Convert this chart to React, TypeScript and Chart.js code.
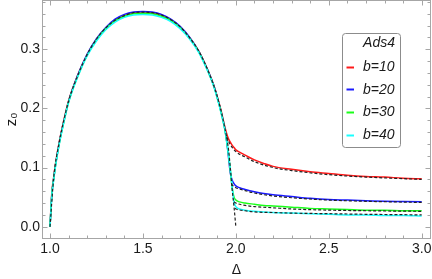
import React, { useEffect, useRef } from "react";
import { Chart, registerables } from "chart.js";

Chart.register(...registerables);

// ---------- data ----------
const DELTA = [
  1.0, 1.01, 1.02, 1.03, 1.05, 1.07, 1.1, 1.15, 1.2, 1.25, 1.3, 1.35, 1.4, 1.45, 1.5,
  1.55, 1.6, 1.65, 1.7, 1.75, 1.8, 1.85, 1.88, 1.9, 1.92, 1.94, 1.95, 1.96, 1.97, 1.98,
  1.99, 2.0, 2.02, 2.05, 2.1, 2.15, 2.2, 2.3, 2.4, 2.5, 2.6, 2.7, 2.8, 2.9, 3.0,
];

const Z_B10 = [
  0, 0.058, 0.084, 0.107, 0.144, 0.174, 0.213, 0.257, 0.291, 0.317, 0.336, 0.349, 0.357, 0.362, 0.363,
  0.362, 0.358, 0.35, 0.338, 0.32, 0.297, 0.264, 0.24, 0.22, 0.197, 0.17, 0.158, 0.149, 0.143, 0.138,
  0.134, 0.13, 0.126, 0.121, 0.113, 0.107, 0.102, 0.097, 0.093, 0.09, 0.087, 0.085, 0.084, 0.082, 0.081,
];

const Z_B20 = [
  0, 0.055, 0.082, 0.105, 0.142, 0.172, 0.212, 0.257, 0.292, 0.318, 0.337, 0.351, 0.359, 0.363, 0.364,
  0.363, 0.359, 0.351, 0.339, 0.321, 0.297, 0.264, 0.24, 0.219, 0.195, 0.167, 0.146, 0.119, 0.091, 0.079,
  0.073, 0.069, 0.066, 0.063, 0.059, 0.056, 0.054, 0.051, 0.048, 0.046, 0.045, 0.044, 0.043, 0.0425, 0.042,
];

const Z_B30 = [
  0, 0.055, 0.081, 0.104, 0.141, 0.171, 0.211, 0.255, 0.29, 0.316, 0.335, 0.348, 0.356, 0.36, 0.361,
  0.36, 0.356, 0.349, 0.337, 0.319, 0.296, 0.263, 0.239, 0.218, 0.194, 0.166, 0.146, 0.123, 0.096, 0.066,
  0.05, 0.045, 0.042, 0.04, 0.038, 0.036, 0.035, 0.033, 0.031, 0.03, 0.029, 0.028, 0.028, 0.027, 0.027,
];

const Z_B40 = [
  0, 0.054, 0.08, 0.103, 0.14, 0.17, 0.21, 0.254, 0.289, 0.314, 0.333, 0.346, 0.354, 0.358, 0.359,
  0.358, 0.354, 0.347, 0.335, 0.318, 0.295, 0.262, 0.238, 0.217, 0.193, 0.165, 0.146, 0.124, 0.098, 0.068,
  0.042, 0.034, 0.03, 0.028, 0.026, 0.025, 0.024, 0.023, 0.022, 0.021, 0.02, 0.02, 0.019, 0.019, 0.018,
];

// dashed black reference curves
const HUMP_DELTA = [
  1.0, 1.02, 1.05, 1.1, 1.15, 1.2, 1.25, 1.3, 1.35, 1.4, 1.45, 1.5, 1.55, 1.6, 1.65, 1.7, 1.75,
  1.8, 1.85, 1.9, 1.94, 1.96, 1.97, 1.98, 1.99, 2.0,
];
const HUMP_Z = [
  0, 0.083, 0.143, 0.212, 0.256, 0.291, 0.317, 0.336, 0.349, 0.357, 0.362, 0.363, 0.362, 0.358, 0.35,
  0.338, 0.32, 0.297, 0.264, 0.22, 0.168, 0.132, 0.1, 0.064, 0.034, 0.0,
];

const DASH_B10_DELTA = [1.95, 1.97, 2.0, 2.05, 2.1, 2.2, 2.3, 2.5, 2.7, 3.0];
const DASH_B10_Z = [0.152, 0.139, 0.127, 0.118, 0.11, 0.1, 0.095, 0.088, 0.084, 0.08];
const DASH_B20_DELTA = [1.975, 1.99, 2.0, 2.05, 2.1, 2.2, 2.3, 2.5, 2.7, 3.0];
const DASH_B20_Z = [0.072, 0.068, 0.066, 0.061, 0.057, 0.052, 0.049, 0.045, 0.043, 0.041];
const DASH_B30_DELTA = [1.99, 2.0, 2.05, 2.1, 2.2, 2.3, 2.5, 2.7, 3.0];
const DASH_B30_Z = [0.042, 0.04, 0.036, 0.034, 0.032, 0.03, 0.028, 0.027, 0.026];
const DASH_B40_DELTA = [1.995, 2.0, 2.05, 2.1, 2.2, 2.3, 2.5, 2.7, 3.0];
const DASH_B40_Z = [0.031, 0.03, 0.027, 0.025, 0.024, 0.023, 0.022, 0.021, 0.02];

const SERIES_LABELS = ["b=10", "b=20", "b=30", "b=40"];
const SERIES_COLORS = ["#ff1a1a", "#1a1aff", "#1aff1a", "#1affff"];
const LEGEND_TITLE = "Ads4";

const X_TICKS = [1.0, 1.5, 2.0, 2.5, 3.0];
const Y_TICKS = [0.0, 0.1, 0.2, 0.3];
const X_MINOR_STEP = 0.1;
const Y_MINOR_STEP = 0.02;

const X_TITLE = "Δ";
const Y_TITLE = "z₀";

const FONT = "'Liberation Sans', Arial, sans-serif";

const pts = (xs: number[], ys: number[]) => xs.map((x, i) => ({ x, y: ys[i] }));

// ---------- plugins ----------
const framePlugin = {
  id: "frameTicks",
  beforeDatasetsDraw(chart: any) {
    const { ctx, chartArea, scales } = chart;
    const { left, right, top, bottom } = chartArea;
    const xs = scales.x;
    const ys = scales.y;
    ctx.save();
    ctx.strokeStyle = "#a6a6a6";
    ctx.lineWidth = 1;
    const L = Math.round(left) - 0.5;
    const R = Math.round(right) + 0.5;
    const T = Math.round(top) - 0.5;
    const B = Math.round(bottom) + 0.5;
    ctx.strokeRect(L, T, R - L, B - T);
    ctx.beginPath();
    const isMajor = (v: number, list: number[]) => list.some((t) => Math.abs(t - v) < 1e-6);
    for (let k = 0; ; k++) {
      const v = X_TICKS[0] + k * X_MINOR_STEP;
      if (v > X_TICKS[X_TICKS.length - 1] + 1e-6) break;
      const p = Math.round(xs.getPixelForValue(v)) + 0.5;
      const len = isMajor(v, X_TICKS) ? 5 : 3;
      ctx.moveTo(p, B);
      ctx.lineTo(p, B - len);
      ctx.moveTo(p, T);
      ctx.lineTo(p, T + len);
    }
    for (let k = 0; ; k++) {
      const v = Y_TICKS[0] + k * Y_MINOR_STEP;
      if (v > ys.max) break;
      const p = Math.round(ys.getPixelForValue(v)) + 0.5;
      const len = isMajor(v, Y_TICKS) ? 5 : 3;
      ctx.moveTo(L, p);
      ctx.lineTo(L + len, p);
      ctx.moveTo(R, p);
      ctx.lineTo(R - len, p);
    }
    ctx.stroke();
    ctx.restore();
  },
};

const legendPlugin = {
  id: "boxLegend",
  afterDraw(chart: any) {
    const { ctx } = chart;
    const bx = 342.5;
    const by = 33.5;
    const bw = 58;
    const bh = 114;
    ctx.save();
    ctx.fillStyle = "#ffffff";
    ctx.strokeStyle = "#8c8c8c";
    ctx.lineWidth = 1;
    ctx.beginPath();
    if ((ctx as any).roundRect) (ctx as any).roundRect(bx, by, bw, bh, 3);
    else ctx.rect(bx, by, bw, bh);
    ctx.fill();
    ctx.stroke();

    ctx.font = `italic 14px ${FONT}`;
    ctx.fillStyle = "#1a1a1a";
    ctx.textBaseline = "middle";
    ctx.textAlign = "right";
    ctx.fillText(LEGEND_TITLE, 395, 43.5);

    const items = chart.data.datasets.filter((d: any) => !d.isRef);
    items.forEach((d: any, i: number) => {
      const cy = 66.5 + i * 22.7;
      ctx.strokeStyle = d.borderColor;
      ctx.lineWidth = 2;
      ctx.beginPath();
      ctx.moveTo(346.5, Math.round(cy) + 0.5);
      ctx.lineTo(354, Math.round(cy) + 0.5);
      ctx.stroke();
      ctx.textAlign = "left";
      ctx.fillStyle = "#1a1a1a";
      ctx.fillText(d.label, 363, cy + 0.5);
    });
    ctx.restore();
  },
};

export default function App() {
  const ref = useRef<HTMLCanvasElement | null>(null);

  useEffect(() => {
    if (!ref.current) return;
    const zs = [Z_B10, Z_B20, Z_B30, Z_B40];
    const colored = zs.map((z, i) => ({
      label: SERIES_LABELS[i],
      data: pts(DELTA, z),
      borderColor: SERIES_COLORS[i],
      backgroundColor: SERIES_COLORS[i],
      borderWidth: 1.5,
      pointRadius: 0,
      cubicInterpolationMode: "monotone" as const,
      order: 4 - i,
      isRef: false,
    }));
    const dashed = [
      pts(HUMP_DELTA, HUMP_Z),
      pts(DASH_B10_DELTA, DASH_B10_Z),
      pts(DASH_B20_DELTA, DASH_B20_Z),
      pts(DASH_B30_DELTA, DASH_B30_Z),
      pts(DASH_B40_DELTA, DASH_B40_Z),
    ].map((data, i) => ({
      label: "ref" + i,
      data,
      borderColor: "#222222",
      borderWidth: 1.2,
      borderDash: [3, 2],
      pointRadius: 0,
      cubicInterpolationMode: "monotone" as const,
      order: 0,
      isRef: true,
    }));

    const chart = new Chart(ref.current, {
      type: "line",
      data: { datasets: [...colored, ...dashed] as any },
      options: {
        responsive: false,
        animation: false,
        layout: { padding: { top: 1, right: 2, left: 0, bottom: 0 } },
        plugins: { legend: { display: false }, tooltip: { enabled: false } },
        scales: {
          x: {
            type: "linear",
            min: 0.9623,
            max: 3.0447,
            grid: { display: false, drawTicks: false },
            border: { display: false },
            afterFit: (s: any) => {
              s.height = 41;
              s.paddingLeft = 0;
              s.paddingRight = 0;
            },
            afterBuildTicks: (s: any) => {
              s.ticks = X_TICKS.map((v) => ({ value: v }));
            },
            ticks: {
              padding: 3,
              maxRotation: 0,
              autoSkip: false,
              color: "#1a1a1a",
              font: { family: FONT, size: 14 },
              callback: (v: any) => Number(v).toFixed(1),
            },
            title: {
              display: true,
              text: X_TITLE,
              color: "#1a1a1a",
              font: { family: FONT, size: 14 },
              padding: { top: 0, bottom: 0 },
            },
          },
          y: {
            type: "linear",
            min: -0.0191,
            max: 0.3817,
            grid: { display: false, drawTicks: false },
            border: { display: false },
            afterFit: (s: any) => {
              s.width = 43;
              s.paddingTop = 0;
              s.paddingBottom = 0;
            },
            afterBuildTicks: (s: any) => {
              s.ticks = Y_TICKS.map((v) => ({ value: v }));
            },
            ticks: {
              padding: 3,
              autoSkip: false,
              color: "#1a1a1a",
              font: { family: FONT, size: 14 },
              callback: (v: any) => Number(v).toFixed(1),
            },
            title: {
              display: true,
              text: Y_TITLE,
              color: "#1a1a1a",
              font: { family: FONT, size: 15 },
              padding: { top: 2.5, bottom: 0 },
            },
          },
        },
      } as any,
      plugins: [framePlugin, legendPlugin],
    });
    return () => chart.destroy();
  }, []);

  return (
    <div style={{ position: "fixed", left: 0, top: 0, width: 432, height: 279, background: "#fff" }}>
      <canvas ref={ref} width={432} height={279} style={{ display: "block" }} />
    </div>
  );
}
